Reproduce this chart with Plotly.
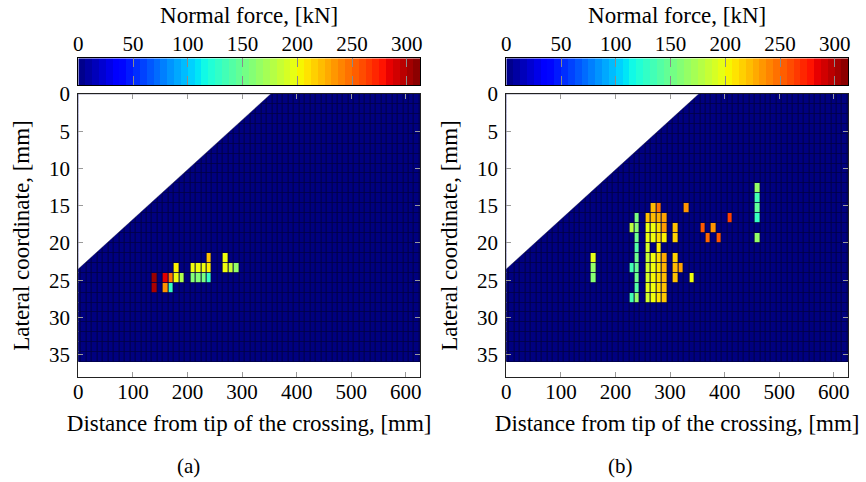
import numpy as np
import plotly.graph_objects as go

# ---------------- data ----------------
# grid of the contact patch: column centres [mm] and lateral rows
x_centers = list(range(0, 640, 10))          # 0 ... 630 mm, 10 mm cells
row_height = 4.0 / 3.0                       # lateral cell size [mm]
n_rows = 27                                  # 0 ... 36 mm
y_centers = [(k + 0.5) * row_height for k in range(n_rows)]

# crossing nose geometry (1:15 crossing, tip offset)
crossing_ratio = 15.0
tip_lateral = 23.5

# (a) loaded cells: column centre [mm], row index, normal force [kN]
a_x = [140, 140, 160, 160, 170, 170, 180, 180, 190, 210, 210, 220, 220,
       230, 230, 240, 240, 240, 270, 270, 280, 290]
a_row = [18, 19, 18, 19, 18, 19, 17, 18, 18, 17, 18, 17, 18,
         17, 18, 16, 17, 18, 16, 17, 17, 17]
a_val = [305, 300, 285, 235, 245, 130, 205, 200, 175, 200, 160, 200, 160,
         200, 155, 220, 205, 130, 200, 200, 185, 165]

# (b) loaded cells
b_x = [160, 160, 160,
       230, 230, 230,
       240, 240, 240, 240, 240, 240, 240, 240, 240,
       260, 260, 260, 260, 260, 260, 260, 260, 260,
       270, 270, 270, 270, 270, 270, 270, 270, 270,
       280, 280, 280, 280, 280, 280, 280, 280, 280, 280,
       290, 290, 290, 290, 290, 290, 290, 290,
       310, 310, 310, 310, 310,
       320, 330, 340, 360, 370, 380, 390, 410,
       460, 460, 460, 460, 460]
b_row = [16, 17, 18,
         13, 17, 20,
         12, 13, 14, 15, 16, 17, 18, 19, 20,
         12, 13, 14, 15, 16, 17, 18, 19, 20,
         11, 12, 13, 14, 16, 17, 18, 19, 20,
         11, 12, 13, 14, 15, 16, 17, 18, 19, 20,
         12, 13, 14, 16, 17, 18, 19, 20,
         13, 14, 16, 17, 18,
         17, 11, 18, 13, 14, 13, 14, 12,
         9, 10, 11, 12, 14]
b_val = [195, 165, 160,
         180, 135, 135,
         155, 160, 150, 140, 150, 148, 150, 140, 165,
         220, 198, 198, 190, 185, 188, 190, 195, 188,
         222, 222, 200, 200, 200, 200, 202, 200, 200,
         245, 225, 210, 210, 205, 210, 208, 210, 210, 208,
         230, 232, 205, 228, 225, 222, 220, 218,
         220, 215, 215, 222, 220,
         230, 235, 200, 255, 250, 235, 255, 262,
         165, 135, 145, 130, 165]

force_max = 312.0
cbar_ticks = [0, 50, 100, 150, 200, 250, 300]
x_ticks = [0, 100, 200, 300, 400, 500, 600]
y_ticks = [0, 5, 10, 15, 20, 25, 30, 35]

# pgfplots "jet" colormap
jet = [
    [0.0, "rgb(0,0,128)"], [0.11, "rgb(0,0,255)"], [0.125, "rgb(0,0,255)"],
    [0.34, "rgb(0,219,255)"], [0.35, "rgb(0,230,247)"], [0.375, "rgb(21,255,226)"],
    [0.64, "rgb(239,255,12)"], [0.65, "rgb(247,246,0)"], [0.66, "rgb(255,236,0)"],
    [0.89, "rgb(255,19,0)"], [0.91, "rgb(232,0,0)"], [1.0, "rgb(128,0,0)"],
]

FONT = "Liberation Serif"
W, H = 866, 482


def grid(xs, rows, vals):
    z = np.zeros((n_rows, len(x_centers)))
    for x, r, v in zip(xs, rows, vals):
        z[r, x_centers.index(x)] = v
    return z


fig = go.Figure()

panels = [
    dict(xs=a_x, rows=a_row, vals=a_val, x0=78.3, x1=420.0, label="(a)", lx=188),
    dict(xs=b_x, rows=b_row, vals=b_val, x0=506.3, x1=848.0, label="(b)", lx=620),
]

plot_top, plot_bot = 94.0, 377.0
cb_top, cb_bot = 58.3, 85.0

# colour bar samples
cb_steps = np.linspace(0, force_max, 51)
cb_centers = 0.5 * (cb_steps[:-1] + cb_steps[1:])

tick_style = dict(ticks="inside", ticklen=5, tickcolor="#9a9a9a", tickwidth=1,
                  showline=True, linecolor="#222222", linewidth=1, mirror="ticks",
                  showgrid=False, zeroline=False,
                  tickfont=dict(family=FONT, size=21, color="black"))

for i, p in enumerate(panels):
    xa = "x" if i == 0 else "x2"
    ya = "y" if i == 0 else "y2"
    xc = f"x{i + 3}"
    yc = f"y{i + 3}"

    # dark background that shows through the cell gaps as grid lines
    fig.add_shape(type="rect", xref=xa, yref=ya, x0=-5, x1=635, y0=0,
                  y1=n_rows * row_height, fillcolor="rgb(0,0,70)",
                  line=dict(width=0), layer="below")

    fig.add_trace(go.Heatmap(
        x=x_centers, y=y_centers, z=grid(p["xs"], p["rows"], p["vals"]),
        colorscale=jet, zmin=0, zmax=force_max, showscale=False,
        xgap=1, ygap=0.8, xaxis=xa, yaxis=ya, hoverinfo="skip"))

    # area outside the crossing nose (1:15 line)
    tip_x = tip_lateral * crossing_ratio
    fig.add_trace(go.Scatter(
        x=[-10, tip_x, -10, -10], y=[0, 0, tip_lateral + 10 / crossing_ratio, 0],
        fill="toself", fillcolor="white", mode="lines",
        line=dict(width=0.6, color="rgba(0,0,60,0.6)"),
        xaxis=xa, yaxis=ya, hoverinfo="skip", showlegend=False))

    # colour bar
    fig.add_trace(go.Heatmap(
        x=cb_centers, y=[0], z=[cb_centers], colorscale=jet, zmin=0, zmax=force_max,
        showscale=False, xaxis=xc, yaxis=yc, hoverinfo="skip"))

    dom_x = [p["x0"] / W, p["x1"] / W]
    fig.update_layout(**{
        ("xaxis" if i == 0 else "xaxis2"): dict(
            domain=dom_x, range=[0, 626], anchor=ya, tickvals=x_ticks, **tick_style,
            ticklabelstandoff=-4,
            title=dict(text="Distance from tip of the crossing, [mm]",
                       font=dict(family=FONT, size=23, color="black"), standoff=11)),
        ("yaxis" if i == 0 else "yaxis2"): dict(
            domain=[1 - plot_bot / H, 1 - plot_top / H], range=[38, 0], anchor=xa,
            tickvals=y_ticks, **tick_style, ticklabelstandoff=3,
            title=dict(text="Lateral coordinate, [mm]",
                       font=dict(family=FONT, size=23, color="black"), standoff=13)),
        f"xaxis{i + 3}": dict(
            domain=dom_x, range=[0, force_max], anchor=yc, side="top",
            tickvals=cbar_ticks, ticks="inside", ticklen=9, tickcolor="#8a8a8a",
            showline=True, linecolor="black", linewidth=1, mirror="ticks",
            showgrid=False, zeroline=False, ticklabelstandoff=-2,
            tickfont=dict(family=FONT, size=21, color="black"),
            title=dict(text="Normal force, [kN]",
                       font=dict(family=FONT, size=23, color="black"), standoff=1)),
        f"yaxis{i + 3}": dict(
            domain=[1 - cb_bot / H, 1 - cb_top / H], range=[-0.5, 0.5], anchor=xc,
            showticklabels=False, ticks="", showline=True, linecolor="black",
            linewidth=1, mirror=True, showgrid=False, zeroline=False),
    })

    fig.add_annotation(text=p["label"], xref="paper", yref="paper",
                       x=p["lx"] / W, y=1 - 466 / H, xanchor="center",
                       yanchor="middle", showarrow=False,
                       font=dict(family=FONT, size=21, color="black"))

fig.update_layout(
    width=W, height=H, template="none",
    margin=dict(l=0, r=0, t=0, b=0),
    paper_bgcolor="white", plot_bgcolor="white",
    showlegend=False,
)

fig.write_html("out.html", config={"displayModeBar": False},
               post_script="document.body.style.margin='0';")
